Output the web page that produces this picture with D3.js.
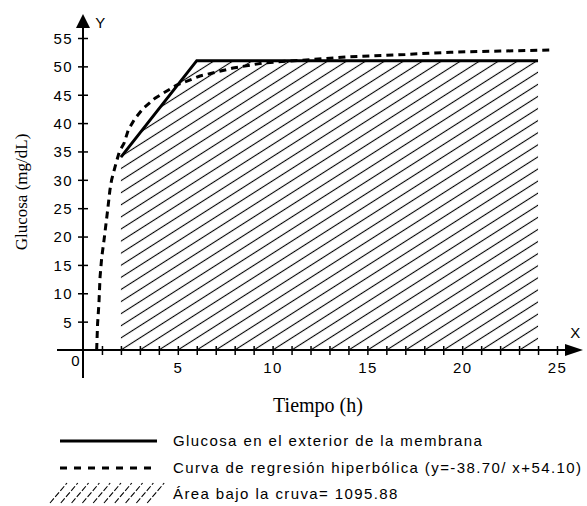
<!DOCTYPE html>
<html>
<head>
<meta charset="utf-8">
<script src="https://cdn.jsdelivr.net/npm/d3@7"></script>
<style>
  body { margin: 0; background: #fff; }
  svg { display: block; }
  .sans { font-family: "Liberation Sans", Arial, sans-serif; font-size: 15px; letter-spacing: 1.4px; fill: #000; }
  .serif { font-family: "Liberation Serif", "Times New Roman", serif; fill: #000; }
</style>
</head>
<body>
<div id="entry"></div>
<script>
// glucose outside the membrane (solid line)
var glucTime = [2, 6, 24];
var glucValue = [34, 51, 51];

// hyperbolic regression curve
var regTime = [0.72, 0.77, 0.84, 0.9, 0.99, 1.11, 1.28, 1.42, 1.51, 1.69, 1.92, 2.16, 2.39, 2.74, 3.18, 3.8, 4.94, 6.17, 7.91, 9.5, 12, 14.1, 17, 19.4, 22, 24.8];
var regValue = [0, 4.7, 8.2, 12.9, 16.4, 19.4, 24.1, 28.2, 30, 32.3, 35, 36.4, 38.8, 40.8, 42.6, 44.4, 46.7, 48.3, 49.7, 50.6, 51.2, 51.7, 52.1, 52.5, 52.7, 52.9];

var xTicks = [5, 10, 15, 20, 25];
var yTicks = [5, 10, 15, 20, 25, 30, 35, 40, 45, 50, 55];

var legendLabels = [
  'Glucosa en el exterior de la membrana',
  'Curva de regresión hiperbólica (y=-38.70/ x+54.10)',
  'Área bajo la cruva= 1095.88'
];

var width = 587, height = 506;

var x = d3.scaleLinear().domain([0, 25]).range([83, 557]);
var y = d3.scaleLinear().domain([0, 55]).range([350, 38]);

var svg = d3.select('#entry').append('svg')
  .attr('width', width)
  .attr('height', height);

var defs = svg.append('defs');

// hatch for the area
var hatchAngle = -32.5, hatchGap = 10.2;
defs.append('pattern')
  .attr('id', 'hatch')
  .attr('patternUnits', 'userSpaceOnUse')
  .attr('width', 8)
  .attr('height', hatchGap)
  .attr('patternTransform', 'translate(' + x(2) + ',' + y(0) + ') rotate(' + hatchAngle + ') translate(0,' + (-hatchGap / 2) + ')')
  .append('line')
  .attr('x1', 0).attr('x2', 8)
  .attr('y1', hatchGap / 2).attr('y2', hatchGap / 2)
  .attr('stroke', '#000')
  .attr('stroke-width', 1.1);

var glucData = glucTime.map(function(t, i) { return [t, glucValue[i]]; });
var regData = regTime.map(function(t, i) { return [t, regValue[i]]; });

var area = d3.area()
  .x(function(d) { return x(d[0]); })
  .y0(y(0))
  .y1(function(d) { return y(d[1]); });

var line = d3.line()
  .x(function(d) { return x(d[0]); })
  .y(function(d) { return y(d[1]); });

svg.append('path')
  .datum(glucData)
  .attr('d', area)
  .attr('fill', 'url(#hatch)');

// axes
var yAxis = d3.axisLeft(y).tickValues(yTicks).tickSize(5).tickPadding(5);
var gy = svg.append('g')
  .attr('transform', 'translate(' + x(0) + ',0)')
  .call(yAxis);
gy.select('.domain').remove();
gy.attr('font-size', null).attr('font-family', null);
gy.selectAll('.tick line').attr('x1', 5).attr('x2', -5).attr('stroke', '#000').attr('stroke-width', 1.5);
gy.selectAll('.tick text')
  .attr('class', 'sans')
  .attr('x', -10)
  .attr('dy', '0.36em');

var xAxis = d3.axisBottom(x).tickValues(d3.range(1, 26)).tickSize(5)
  .tickFormat(function(d) { return xTicks.indexOf(d) >= 0 ? d : ''; });
var gx = svg.append('g')
  .attr('transform', 'translate(0,' + y(0) + ')')
  .call(xAxis);
gx.select('.domain').remove();
gx.attr('font-size', null).attr('font-family', null);
gx.selectAll('.tick line').attr('y1', -4).attr('y2', 5).attr('stroke', '#000').attr('stroke-width', 1.5);
gx.selectAll('.tick text')
  .attr('class', 'sans')
  .attr('y', 17.5)
  .attr('dy', '0.36em');

svg.append('text').attr('class', 'sans')
  .attr('x', 76).attr('y', 361).attr('dy', '0.36em')
  .attr('text-anchor', 'middle').text('0');

// axis lines with arrows
svg.append('line')
  .attr('x1', x(0)).attr('x2', x(0))
  .attr('y1', 378).attr('y2', 26)
  .attr('stroke', '#000').attr('stroke-width', 2);
svg.append('path')
  .attr('d', 'M' + x(0) + ',14 L' + (x(0) - 7) + ',28 L' + (x(0) + 7) + ',28 Z')
  .attr('fill', '#000');
svg.append('line')
  .attr('x1', 57).attr('x2', 568)
  .attr('y1', y(0)).attr('y2', y(0))
  .attr('stroke', '#000').attr('stroke-width', 2);
svg.append('path')
  .attr('d', 'M583,' + y(0) + ' L565,' + (y(0) - 6) + ' L565,' + (y(0) + 6) + ' Z')
  .attr('fill', '#000');

svg.append('text').attr('class', 'sans')
  .attr('x', 101).attr('y', 23).attr('dy', '0.36em')
  .attr('text-anchor', 'middle').text('Y');
svg.append('text').attr('class', 'sans')
  .attr('x', 576).attr('y', 333).attr('dy', '0.36em')
  .attr('text-anchor', 'middle').text('X');

// curves
svg.append('path')
  .datum(regData)
  .attr('d', line)
  .attr('fill', 'none')
  .attr('stroke', '#000')
  .attr('stroke-width', 3)
  .attr('stroke-dasharray', '7,5');

svg.append('path')
  .datum(glucData)
  .attr('d', line)
  .attr('fill', 'none')
  .attr('stroke', '#000')
  .attr('stroke-width', 3);

// axis titles
svg.append('text').attr('class', 'serif')
  .attr('transform', 'translate(21,192) rotate(-90)')
  .attr('text-anchor', 'middle')
  .attr('dy', '0.35em')
  .style('font-size', '17px')
  .text('Glucosa (mg/dL)');

svg.append('text').attr('class', 'serif')
  .attr('x', 318).attr('y', 405)
  .attr('text-anchor', 'middle')
  .attr('dy', '0.35em')
  .style('font-size', '20px')
  .text('Tiempo (h)');

// legend
var legY = [441, 468, 494];
svg.append('line')
  .attr('x1', 60).attr('x2', 157)
  .attr('y1', legY[0]).attr('y2', legY[0])
  .attr('stroke', '#000').attr('stroke-width', 3);
svg.append('line')
  .attr('x1', 60).attr('x2', 153)
  .attr('y1', legY[1]).attr('y2', legY[1])
  .attr('stroke', '#000').attr('stroke-width', 3)
  .attr('stroke-dasharray', '7,7');
svg.append('g').selectAll('line')
  .data(d3.range(10))
  .enter().append('line')
  .attr('x1', function(i) { return 50 + i * 10.8; })
  .attr('y1', 503)
  .attr('x2', function(i) { return 67 + i * 10.8; })
  .attr('y2', 483)
  .attr('stroke', '#000')
  .attr('stroke-width', 1.1)
  .attr('stroke-dasharray', '6,2');

svg.append('g').selectAll('text')
  .data(legendLabels)
  .enter().append('text')
  .attr('class', 'sans')
  .attr('x', 173)
  .attr('y', function(d, i) { return legY[i]; })
  .attr('dy', '0.36em')
  .text(function(d) { return d; });
</script>
</body>
</html>
